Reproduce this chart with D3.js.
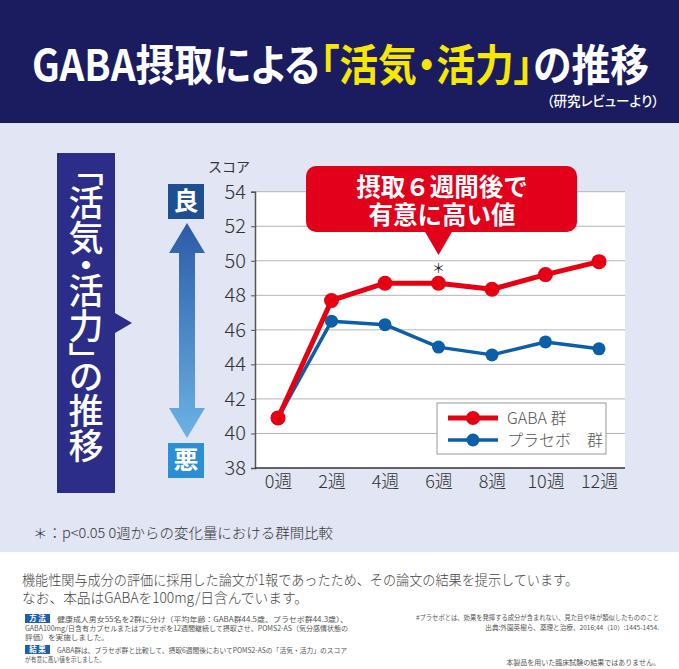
<!DOCTYPE html>
<html><head><meta charset="utf-8">
<script src="https://cdn.jsdelivr.net/npm/d3@7"></script>
<style>
html,body{margin:0;padding:0;background:#fff;}
svg{display:block;font-family:"Noto Sans CJK JP","Noto Sans",sans-serif;}
</style></head>
<body>
<script>
// ---- data ----
const weeks = ["0週","2週","4週","6週","8週","10週","12週"];
const gabaValues = [40.9, 47.7, 48.7, 48.7, 48.35, 49.2, 49.95];
const placeboValues = [40.9, 46.5, 46.3, 45.0, 44.55, 45.3, 44.9];
const yTicks = [38, 40, 42, 44, 46, 48, 50, 52, 54];
const seriesNames = ["GABA 群", "プラセボ　群"];
const seriesColors = ["#e60012", "#0d5ea8"];

const W = 679, H = 669;
const svg = d3.select("body").append("svg").attr("width", W).attr("height", H);

// backgrounds
svg.append("rect").attr("x",0).attr("y",0).attr("width",W).attr("height",H).attr("fill","#ffffff");
svg.append("rect").attr("x",0).attr("y",123).attr("width",W).attr("height",429).attr("fill","#e2e5f3");
svg.append("rect").attr("x",0).attr("y",0).attr("width",W).attr("height",123).attr("fill","#1b1c5f");

// title (condensed via horizontal scale)
const title = svg.append("text").attr("x",0).attr("y",0)
  .attr("font-size",43).attr("font-weight",700).attr("fill","#fff")
  .style("font-feature-settings","'palt'");
title.append("tspan").text("GABA摂取による");
title.append("tspan").attr("fill","#f6e800").text("「活気・活力」");
title.append("tspan").text("の推移");
const tw = title.node().getComputedTextLength();
title.attr("transform",`translate(32,81) scale(${617/tw},1)`);

svg.append("text").attr("x",659).attr("y",106).attr("text-anchor","end")
  .attr("font-size",13.5).attr("font-weight",500).attr("fill","#fff")
  .style("font-feature-settings","'palt'").text("（研究レビューより）");

// left vertical label box
svg.append("rect").attr("x",57).attr("y",153).attr("width",58).attr("height",340).attr("fill","#2c2d88");
svg.append("path").attr("d","M115,313 L132,323 L115,333 Z").attr("fill","#2c2d88");
svg.append("text").attr("x",86).attr("y",168)
  .attr("font-size",35).attr("font-weight",500).attr("fill","#fff")
  .style("writing-mode","vertical-rl").style("font-feature-settings","'vpal'")
  .text("「活気・活力」の推移");

// gradient arrow
const defs = svg.append("defs");
const grad = defs.append("linearGradient").attr("id","arrowGrad").attr("x1",0).attr("y1",0).attr("x2",0).attr("y2",1);
grad.append("stop").attr("offset","0%").attr("stop-color","#2b5ba8");
grad.append("stop").attr("offset","100%").attr("stop-color","#6cb2e6");
svg.append("path")
  .attr("d","M187,223 L205,253 L195,253 L195,408 L205,408 L187,438 L169,408 L179,408 L179,253 L169,253 Z")
  .attr("fill","url(#arrowGrad)");
svg.append("rect").attr("x",168).attr("y",184).attr("width",36).attr("height",35).attr("fill","#1d4f91");
svg.append("text").attr("x",186).attr("y",210).attr("text-anchor","middle").attr("font-size",25).attr("font-weight",700).attr("fill","#fff").text("良");
svg.append("rect").attr("x",168).attr("y",443).attr("width",36).attr("height",35).attr("fill","#2b8fd6");
svg.append("text").attr("x",186).attr("y",469).attr("text-anchor","middle").attr("font-size",25).attr("font-weight",700).attr("fill","#fff").text("悪");

// chart
const x = d3.scalePoint().domain(weeks).range([278, 599]);
const y = d3.scaleLinear().domain([38, 54]).range([468, 191.7]);
const plotL = 255, plotR = 625;

svg.append("rect").attr("x",plotL).attr("y",y(54)).attr("width",plotR-plotL).attr("height",y(38)-y(54)).attr("fill","#fff");
svg.append("g").selectAll("line").data(yTicks.filter(d=>d>38)).join("line")
  .attr("x1",plotL).attr("x2",plotR).attr("y1",d=>y(d)).attr("y2",d=>y(d))
  .attr("stroke","#b4b4b4").attr("stroke-width",1);

const yAxis = svg.append("g").attr("transform",`translate(${plotL},0)`)
  .call(d3.axisLeft(y).tickValues(yTicks).tickSize(4).tickPadding(5).tickFormat(d3.format("d")));
yAxis.select(".domain").attr("stroke","#555").attr("stroke-width",1.5);
yAxis.selectAll(".tick line").attr("stroke","#555");
yAxis.selectAll("text").attr("font-size",20).attr("fill","#333").attr("font-family","'Noto Sans CJK JP',sans-serif").attr("font-weight",300);

const xAxis = svg.append("g").attr("transform",`translate(0,${y(38)})`)
  .call(d3.axisBottom(x).tickSize(0).tickPadding(7));
xAxis.select(".domain").attr("d",`M${plotL},0H${plotR}`).attr("stroke","#333").attr("stroke-width",1.5);
xAxis.selectAll("text").attr("font-size",18).attr("fill","#333").attr("font-family","'Noto Sans CJK JP',sans-serif").attr("font-weight",300);

svg.append("text").attr("x",229).attr("y",172).attr("text-anchor","middle").attr("font-size",14).attr("fill","#333").text("スコア");

// lines
const line = d3.line().x((d,i)=>x(weeks[i])).y(d=>y(d));
const series = [
  {vals: placeboValues, color: seriesColors[1], w: 3.5, r: 6.5},
  {vals: gabaValues, color: seriesColors[0], w: 5, r: 7.5}
];
series.forEach(s=>{
  svg.append("path").datum(s.vals).attr("d",line).attr("fill","none")
    .attr("stroke",s.color).attr("stroke-width",s.w).attr("stroke-linejoin","round");
  svg.append("g").selectAll("circle").data(s.vals).join("circle")
    .attr("cx",(d,i)=>x(weeks[i])).attr("cy",d=>y(d)).attr("r",s.r).attr("fill",s.color);
});

// asterisk
svg.append("text").attr("x",x("6週")).attr("y",273).attr("text-anchor","middle").attr("font-size",13).attr("fill","#222").text("＊");

// callout
svg.append("rect").attr("x",306).attr("y",166).attr("width",271).attr("height",66).attr("rx",10).attr("fill","#e2001a");
svg.append("path").attr("d",`M${x("6週")-14},231 L${x("6週")},255 L${x("6週")+14},231 Z`).attr("fill","#e2001a");
svg.append("text").attr("x",442).attr("y",196).attr("text-anchor","middle").attr("font-size",24.5).attr("font-weight",700).attr("fill","#fff").text("摂取６週間後で");
svg.append("text").attr("x",442).attr("y",224).attr("text-anchor","middle").attr("font-size",24.5).attr("font-weight",700).attr("fill","#fff").text("有意に高い値");

// legend
svg.append("rect").attr("x",437).attr("y",403).attr("width",169).attr("height",51).attr("fill","#fff").attr("stroke","#999").attr("stroke-width",1);
[0,1].forEach(i=>{
  const ly = 418 + i*22;
  const col = seriesColors[i];
  svg.append("line").attr("x1",448).attr("x2",498).attr("y1",ly).attr("y2",ly).attr("stroke",col).attr("stroke-width",i===0?5:3.5);
  svg.append("circle").attr("cx",473).attr("cy",ly).attr("r",i===0?7:6.5).attr("fill",col);
  svg.append("text").attr("x",507).attr("y",ly+6).attr("font-size",16).attr("fill","#555").attr("font-weight",300).text(seriesNames[i]);
});

// footnote
svg.append("text").attr("x",33).attr("y",538).attr("font-size",14).attr("fill","#333").attr("font-weight",300)
  .attr("textLength",300).attr("lengthAdjust","spacingAndGlyphs").text("＊：p<0.05 0週からの変化量における群間比較");

// lower text
svg.append("text").attr("x",22).attr("y",585).attr("font-size",14).attr("fill","#444").attr("font-weight",300)
  .attr("textLength",556).attr("lengthAdjust","spacingAndGlyphs")
  .text("機能性関与成分の評価に採用した論文が1報であったため、その論文の結果を提示しています。");
svg.append("text").attr("x",22).attr("y",603).attr("font-size",14).attr("fill","#444").attr("font-weight",300)
  .attr("textLength",286).attr("lengthAdjust","spacingAndGlyphs")
  .text("なお、本品はGABAを100mg/日含んでいます。");

const small = (t, xx, yy, len, anchor, fs) => {
  const el = svg.append("text").attr("x",xx).attr("y",yy).attr("font-size",fs||7.3).attr("fill","#555").text(t);
  if (anchor) el.attr("text-anchor",anchor);
  if (len) el.attr("textLength",len).attr("lengthAdjust","spacingAndGlyphs");
};
svg.append("rect").attr("x",25).attr("y",614).attr("width",25).attr("height",9).attr("fill","#1f5fa8");
svg.append("text").attr("x",37.5).attr("y",621.3).attr("text-anchor","middle").attr("font-size",7.5).attr("font-weight",700).attr("fill","#fff").text("方 法");
small("健康成人男女55名を2群に分け（平均年齢：GABA群44.5歳、プラセボ群44.3歳）、", 57, 621.5, 291);
small("GABA100mg/日含有カプセルまたはプラセボを12週間継続して摂取させ、POMS2-AS（気分感情状態の", 25, 630.5, 323);
small("評価）を実施しました。", 25, 639.5, 84);
svg.append("rect").attr("x",25).attr("y",645).attr("width",25).attr("height",9).attr("fill","#1f5fa8");
svg.append("text").attr("x",37.5).attr("y",652.3).attr("text-anchor","middle").attr("font-size",7.5).attr("font-weight",700).attr("fill","#fff").text("結 果");
small("GABA群は、プラセボ群と比較して、摂取6週間後においてPOMS2-ASの「活気・活力」のスコア", 57, 652.5, 290);
small("が有意に高い値を示しました。", 25, 661.5, 80);

small("#プラセボとは、効果を発揮する成分が含まれない、見た目や味が類似したもののこと", 416, 619.5, 243, null, 6.4);
small("出典:外園英樹ら、薬理と治療、2016;44（10）:1445-1454.", 659, 629.5, null, "end", 6.6);
small("本製品を用いた臨床試験の結果ではありません。", 660, 664.5, null, "end", 7);
</script>
</body></html>
